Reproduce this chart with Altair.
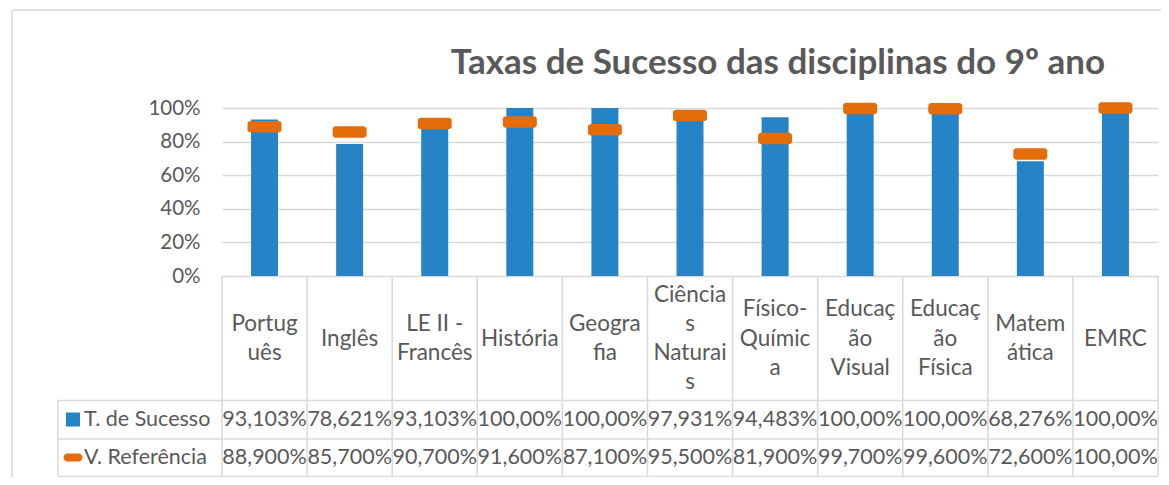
import altair as alt
import pandas as pd

# ---------------- data ----------------
categorias = ["Português", "Inglês", "LE II - Francês", "História", "Geografia",
              "Ciências Naturais", "Físico-Química", "Educação Visual",
              "Educação Física", "Matemática", "EMRC"]
rotulos = [["Portug", "uês"], ["Inglês"], ["LE II -", "Francês"], ["História"],
           ["Geogra", "fia"], ["Ciência", "s", "Naturai", "s"],
           ["Físico-", "Químic", "a"], ["Educaç", "ão", "Visual"],
           ["Educaç", "ão", "Física"], ["Matem", "ática"], ["EMRC"]]
sucesso = [93.103, 78.621, 93.103, 100.0, 100.0, 97.931, 94.483, 100.0, 100.0, 68.276, 100.0]
referencia = [88.9, 85.7, 90.7, 91.6, 87.1, 95.5, 81.9, 99.7, 99.6, 72.6, 100.0]
series = ["T. de Sucesso", "V. Referência"]
titulo = "Taxas de Sucesso das disciplinas do 9º ano"
y_ticks = [0, 0.2, 0.4, 0.6, 0.8, 1.0]


def fmt(v):
    dec = 5 - len(str(int(v)))
    return f"{v:.{dec}f}".replace(".", ",") + "%"


df = pd.DataFrame({
    "cat": categorias,
    "suc": [v / 100 for v in sucesso],
    "ref": [v / 100 for v in referencia],
    "suc_txt": [fmt(v) for v in sucesso],
    "ref_txt": [fmt(v) for v in referencia],
})
one = pd.DataFrame({"k": [0]})

# ---------------- styles ----------------
BLUE = "#2683c6"
ORANGE = "#e46c0a"
GREY = "#595959"
LINE = "#d9d9d9"
FONT = "Lato"
W, H = 936, 168
LH = 29.3            # header line height
HDR_CENTRE = 230.5   # vertical centre of the header cells (px below plot top)

# one row per wrapped header line, each block centred in its cell
hdr_rows = []
for c, lines in zip(categorias, rotulos):
    n = len(lines)
    for i, t in enumerate(lines):
        hdr_rows.append({"cat": c, "line": t, "ypix": HDR_CENTRE + (i - (n - 1) / 2) * LH})
df_hdr = pd.DataFrame(hdr_rows)

xenc = alt.X("cat:N", sort=categorias, axis=None,
             scale=alt.Scale(paddingInner=0, paddingOuter=0))
yscale = alt.Scale(domain=[0, 1])

base = alt.Chart(df)

bars = base.mark_bar(color=BLUE, size=27).encode(
    x=xenc,
    y=alt.Y("suc:Q", scale=yscale,
            axis=alt.Axis(values=y_ticks, tickCount=6, format=".0%", domain=False,
                          ticks=False, tickSize=0, labelPadding=22, labelFont=FONT,
                          labelFontSize=20.5, labelColor=GREY, gridColor=LINE,
                          gridWidth=1.5, title=None, labelOverlap=False,
                          labelFlush=False, labelBound=False)),
)

marks_ref = base.mark_tick(color=ORANGE, thickness=11.5, size=34, cornerRadius=3,
                           opacity=1).encode(
    x=xenc, y=alt.Y("ref:Q", scale=yscale, axis=None))

TS = 21.5
txt_kw = dict(font=FONT, fontSize=TS, color=GREY, baseline="middle", align="center")

header = alt.Chart(df_hdr).mark_text(font=FONT, fontSize=22.5, color=GREY,
                                     baseline="middle", align="center").encode(
    x=xenc,
    y=alt.Y("ypix:Q", scale=alt.Scale(domain=[0, H], range=[0, H], zero=False, nice=False),
            axis=None),
    text="line:N")
row1 = base.mark_text(**txt_kw).encode(x=xenc, y=alt.value(311.5), text="suc_txt:N")
row2 = base.mark_text(**txt_kw).encode(x=xenc, y=alt.value(350), text="ref_txt:N")

vlines = base.mark_rule(color=LINE, strokeWidth=1.5).encode(
    x=alt.X("cat:N", sort=categorias, bandPosition=0, axis=None),
    y=alt.value(H), y2=alt.value(368.5))
vlast = base.mark_rule(color=LINE, strokeWidth=1.5).encode(
    x=alt.X("cat:N", sort=categorias, bandPosition=1, axis=None),
    y=alt.value(H), y2=alt.value(368.5)).transform_filter(
    alt.datum.cat == categorias[-1])

c1 = alt.Chart(one)
hl1 = c1.mark_rule(color=LINE, strokeWidth=1.5).encode(
    x=alt.value(-164), x2=alt.value(W), y=alt.value(292.5))
hl2 = c1.mark_rule(color=LINE, strokeWidth=1.5).encode(
    x=alt.value(-164), x2=alt.value(W), y=alt.value(331))
hl3 = c1.mark_rule(color=LINE, strokeWidth=1.5).encode(
    x=alt.value(-164), x2=alt.value(W), y=alt.value(368.5))
vl0 = c1.mark_rule(color=LINE, strokeWidth=1.5).encode(
    x=alt.value(-164), y=alt.value(292.5), y2=alt.value(368.5))

sym1 = c1.mark_rect(color=BLUE).encode(
    x=alt.value(-156), x2=alt.value(-142), y=alt.value(304.5), y2=alt.value(318.5))
sym2 = c1.mark_rect(color=ORANGE, cornerRadius=4).encode(
    x=alt.value(-158.5), x2=alt.value(-139.5), y=alt.value(345.5), y2=alt.value(353.5))
lab_kw = dict(font=FONT, fontSize=TS, color=GREY, baseline="middle", align="left")
lab1 = c1.mark_text(**lab_kw).encode(
    x=alt.value(-138), y=alt.value(311.5), text=alt.value(series[0]))
lab2 = c1.mark_text(**lab_kw).encode(
    x=alt.value(-138), y=alt.value(350), text=alt.value(series[1]))

btop = c1.mark_rule(color=LINE, strokeWidth=1.5).encode(
    x=alt.value(-210), x2=alt.value(W + 3), y=alt.value(-98))
bleft = c1.mark_rule(color=LINE, strokeWidth=1.5).encode(
    x=alt.value(-210), y=alt.value(-98), y2=alt.value(369))

title = c1.mark_text(font=FONT, fontSize=35, fontWeight="bold", color=GREY,
                     baseline="alphabetic", align="center").encode(
    x=alt.value(556), y=alt.value(-34), text=alt.value(titulo))

chart = alt.layer(
    bars, marks_ref,
    btop, bleft, title,
    vlines, vlast, hl1, hl2, hl3, vl0,
    header, row1, row2, sym1, sym2, lab1, lab2,
).resolve_scale(y="independent").properties(
    width=W, height=H,
    padding={"left": 214, "top": 100, "right": 3, "bottom": 201},
    autosize=alt.AutoSizeParams(type="none"),
).configure_view(stroke=None)

chart.save("out.html", embed_options={"renderer": "svg", "actions": False})
